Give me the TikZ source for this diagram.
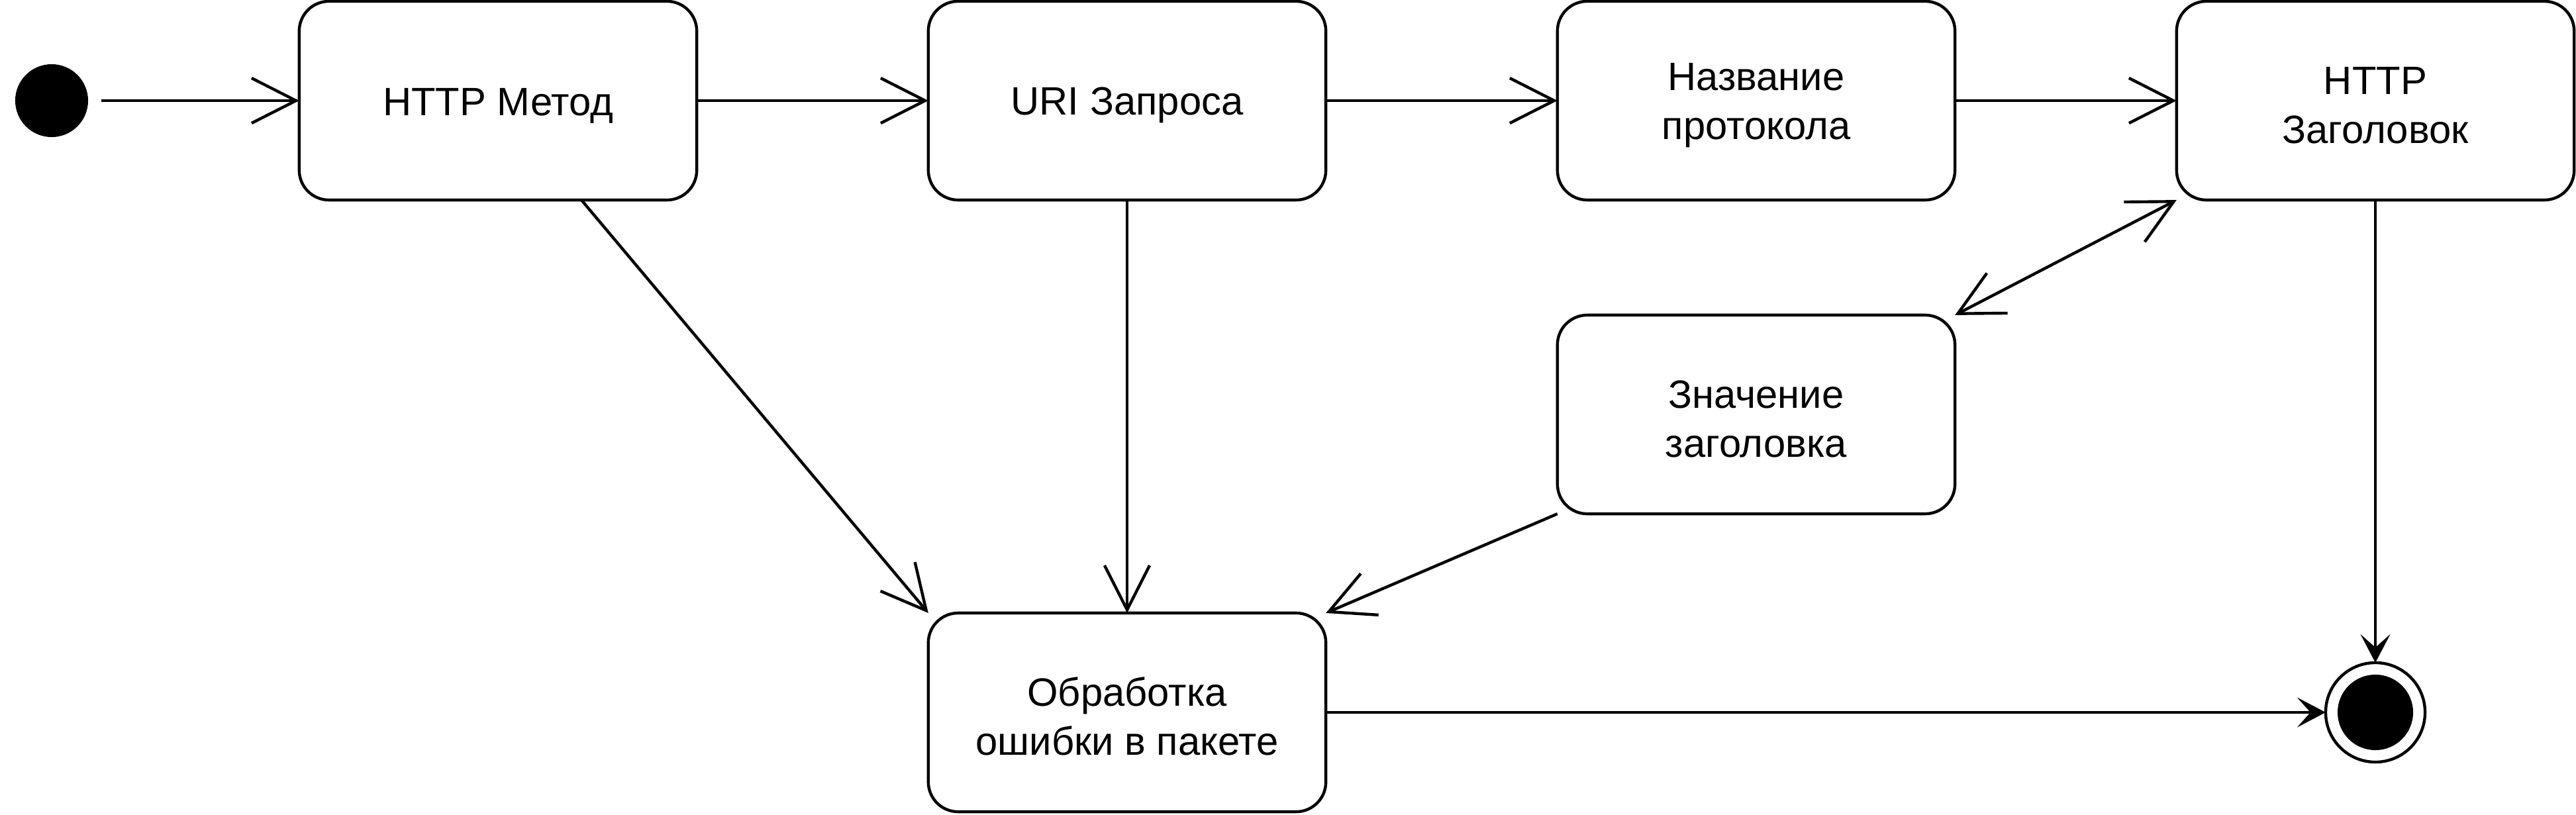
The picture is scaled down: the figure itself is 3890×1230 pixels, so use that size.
\documentclass[tikz,border=0pt]{standalone}
\usepackage{fontspec}
\setmainfont{Liberation Sans}
\usetikzlibrary{arrows.meta,calc}
\newcommand\toppad{\rule{0pt}{0.56cm}}
\tikzset{
  state/.style={draw, line width=1.25pt, rounded corners=0.45cm, minimum width=6cm, minimum height=3cm,
    align=center, inner sep=0pt, outer sep=0pt, font=\fontsize{17pt}{21pt}\selectfont},
  conn/.style={line width=1.25pt},
  openarr/.style={conn, -{Straight Barb[length=6.7mm, width=6.8mm, line width=1.25pt]}},
  bothopen/.style={conn, {Straight Barb[length=6.7mm, width=6.8mm, line width=1.25pt]}-{Straight Barb[length=6.7mm, width=6.8mm, line width=1.25pt]}},
  fillarr/.style={conn, -{Stealth[length=4.3mm, width=4.5mm, inset=2mm]}},
}
\begin{document}
\begin{tikzpicture}[x=0.01cm, y=-0.01cm]
\useasboundingbox (0,0) rectangle (3890,1230);
\node[circle, fill=black, minimum size=1.1cm, inner sep=0pt, outer sep=0pt] (start) at (78,152) {};
\node[state] (m) at (752,152) {\toppad HTTP Метод};
\node[state] (uri) at (1702,152) {\toppad URI Запроса};
\node[state] (proto) at (2652,152) {\toppad Название\\протокола};
\node[state] (hdr) at (3587,152) {\toppad HTTP\\Заголовок};
\node[state] (val) at (2652,626) {\toppad Значение\\заголовка};
\node[state] (err) at (1702,1076) {\toppad Обработка\\ошибки в пакете};
\node[circle, draw, line width=1.25pt, minimum size=1.5cm, inner sep=0pt, outer sep=0pt] (end) at (3587,1076) {};
\fill (end.center) circle (0.57cm);

\draw[openarr, shorten <=0.2cm] (start.east) -- (m.west);
\draw[openarr] (m.east) -- (uri.west);
\draw[openarr] (uri.east) -- (proto.west);
\draw[openarr] (proto.east) -- (hdr.west);
\draw[openarr] ($(m.south)+(126,0)$) -- (err.north west);
\draw[openarr] (uri.south) -- (err.north);
\draw[openarr] (val.south west) -- (err.north east);
\draw[bothopen] (val.north east) -- (hdr.south west);
\draw[fillarr] (hdr.south) -- (end.north);
\draw[fillarr] (err.east) -- (end.west);
\end{tikzpicture}
\end{document}
